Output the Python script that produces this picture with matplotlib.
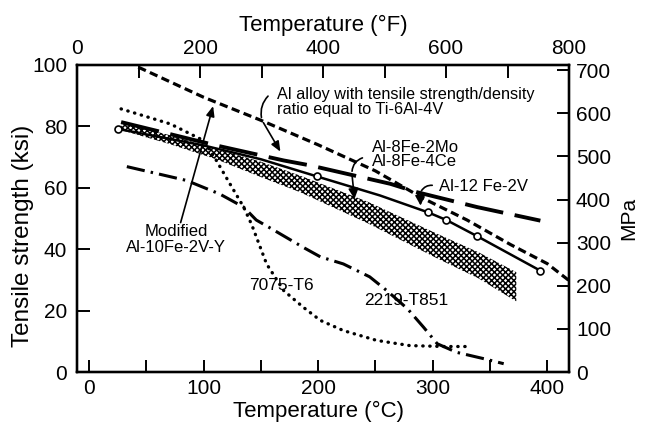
import matplotlib
matplotlib.use("Agg")
import matplotlib.pyplot as plt
import numpy as np

plt.rcParams['font.family'] = ['Liberation Sans', 'DejaVu Sans']
plt.rcParams['hatch.linewidth'] = 1.1

# ---------------- data ----------------
# Al alloy with tensile strength/density ratio equal to Ti-6Al-4V (short dashes)
ti_x = [43, 100, 150, 200, 250, 292, 330, 368, 400, 420]
ti_y = [99.3, 89.5, 82.0, 74.0, 65.5, 56.5, 49.5, 41.5, 35.3, 29.5]

# Al-12Fe-2V (long dashes)
fe12_x = [28, 111, 170, 193, 263, 286, 339, 394]
fe12_y = [81.4, 73.8, 68.9, 67.3, 61.3, 58.6, 53.7, 49.3]

# Solid line with open circles
sol_x = [25, 100, 150, 199, 254, 296, 312, 339, 394]
sol_y = [79.2, 73.8, 69.3, 63.7, 57.5, 52.0, 49.5, 44.2, 33.0]
circ_x = [25, 199, 296, 312, 339, 394]
circ_y = [79.2, 63.7, 52.0, 49.5, 44.2, 33.0]

# Al-8Fe-2Mo / Al-8Fe-4Ce scatter band
band_x = [28, 70, 111, 150, 184, 243, 304, 340, 373]
band_top = [81.2, 77.2, 72.7, 68.5, 64.0, 55.5, 45.0, 39.0, 32.5]
band_bot = [78.8, 74.3, 69.3, 63.5, 58.6, 48.5, 37.0, 30.5, 23.0]

# 7075-T6 (dotted)
t7075_x = [28, 71, 100, 111, 123, 135, 142, 155, 170, 187, 202, 222, 251, 280, 310, 334]
t7075_y = [85.7, 80.8, 75.4, 69.0, 61.3, 53.7, 48.0, 35.2, 26.5, 21.1, 16.8, 13.5, 10.3, 8.6, 8.3, 8.3]

# 2219-T851 (dash-dot)
t2219_x = [33, 85, 114, 135, 146, 160, 187, 202, 222, 245, 260, 278, 292, 304, 321, 345, 362]
t2219_y = [66.9, 62.4, 58.0, 53.7, 49.5, 46.5, 40.6, 37.5, 35.2, 31.0, 26.5, 20.6, 14.6, 9.2, 6.4, 4.3, 2.7]

x_ticks_c = [0, 100, 200, 300, 400]
y_ticks_ksi = [0, 20, 40, 60, 80, 100]
x_ticks_f = [0, 200, 400, 600, 800]
y_ticks_mpa = [0, 100, 200, 300, 400, 500, 600, 700]

# ---------------- figure ----------------
fig = plt.figure(figsize=(6.51, 4.30), dpi=100)
ax = fig.add_axes([77/651, (430-372)/430, (569-77)/651, (372-65)/430])
ax.set_xlim(-10.5, 419)
ax.set_ylim(0, 100)

k = 'black'
ax.fill_between(band_x, band_bot, band_top, facecolor='white', edgecolor=k,
                hatch='xxxxxx', linewidth=0, zorder=2)
ax.plot(ti_x, ti_y, color=k, lw=2.3, ls=(0, (2.6, 1.4)), zorder=3)
ax.plot(fe12_x, fe12_y, color=k, lw=2.8, ls=(0, (10, 3)), zorder=3)
ax.plot(sol_x, sol_y, color=k, lw=1.8, zorder=3)
ax.plot(circ_x, circ_y, ls='none', marker='o', ms=5, mfc='white', mec=k, mew=1.2, zorder=4)
ax.plot(t7075_x, t7075_y, color=k, lw=2.4, ls=(0, (0.1, 2.0)),
        dash_capstyle='round', zorder=3)
ax.plot(t2219_x, t2219_y, color=k, lw=2.2, ls=(0, (6, 2, 0.8, 2)), zorder=3)

# ---------------- annotations ----------------
fs = 12
ax.text(164, 87.9, "Al alloy with tensile strength/density\nratio equal to Ti-6Al-4V",
        fontsize=11.7, ha='left', va='center', linespacing=1.05)
ax.annotate("", xy=(151, 82), xytext=(158, 90.5),
            arrowprops=dict(arrowstyle='-', lw=1.2, color=k, connectionstyle='arc3,rad=0.3'))
ax.annotate("", xy=(168.3, 71), xytext=(151, 82),
            arrowprops=dict(arrowstyle='-|>,head_length=0.6,head_width=0.25', lw=1.2, color=k))

ax.text(75.8, 43.2, "Modified\nAl-10Fe-2V-Y", fontsize=fs, ha='center', va='center', linespacing=1.1)
ax.annotate("", xy=(109, 87.5), xytext=(79.3, 47.8),
            arrowprops=dict(arrowstyle='-|>,head_length=0.6,head_width=0.25', lw=1.2, color=k))

ax.text(247, 70.8, "Al-8Fe-2Mo\nAl-8Fe-4Ce", fontsize=fs, ha='left', va='center', linespacing=0.95)
ax.annotate("", xy=(229.5, 64.5), xytext=(241, 70),
            arrowprops=dict(arrowstyle='-', lw=1.2, color=k, connectionstyle='arc3,rad=0.4'))
ax.annotate("", xy=(232, 55.5), xytext=(229.5, 64.5),
            arrowprops=dict(arrowstyle='-|>,head_length=0.6,head_width=0.3', lw=1.2, color=k))

ax.text(305.3, 60.4, "Al-12 Fe-2V", fontsize=fs, ha='left', va='center')
ax.annotate("", xy=(289, 58.2), xytext=(302, 60.7),
            arrowprops=dict(arrowstyle='-', lw=1.2, color=k, connectionstyle='arc3,rad=0.4'))
ax.annotate("", xy=(289.5, 53.3), xytext=(289, 58.2),
            arrowprops=dict(arrowstyle='-|>,head_length=0.6,head_width=0.3', lw=1.2, color=k))

ax.text(168.3, 28.2, "7075-T6", fontsize=12.5, ha='center', va='center')
ax.text(277, 23.3, "2219-T851", fontsize=12.5, ha='center', va='center')

# ---------------- axes styling ----------------
for s in ax.spines.values():
    s.set_linewidth(1.6)

ax.set_xticks(x_ticks_c)
ax.set_xticks([50, 150, 250, 350], minor=True)
ax.set_yticks(y_ticks_ksi)
ax.tick_params(axis='both', which='both', direction='in', length=9, width=1.4,
               labelsize=15, top=False, right=False)
ax.tick_params(axis='x', pad=5)
ax.tick_params(axis='y', pad=7)
ax.set_xlabel("Temperature (°C)", fontsize=16)
ax.xaxis.set_label_coords(0.49, -0.093)
ax.set_ylabel("Tensile strength (ksi)", fontsize=17.5)
ax.yaxis.set_label_coords(-0.088, 0.445)

axt = ax.twiny()
axt.set_xlim(0, 800)
axt.set_xticks(x_ticks_f)
axt.set_xticks([100, 300, 500, 700], minor=True)
axt.tick_params(axis='x', which='both', direction='in', length=9, width=1.4,
                labelsize=15, pad=5)
axt.set_xlabel("Temperature (°F)", fontsize=16, labelpad=6)

axr = ax.twinx()
axr.set_ylim(0, 712)
axr.set_yticks(y_ticks_mpa)
axr.tick_params(axis='y', direction='in', length=9, width=1.4, labelsize=15, pad=5)
axr.set_ylabel("MPa", fontsize=15, labelpad=6)

for a in (axt, axr):
    for s in a.spines.values():
        s.set_linewidth(1.6)

fig.savefig("out.png", dpi=100)
